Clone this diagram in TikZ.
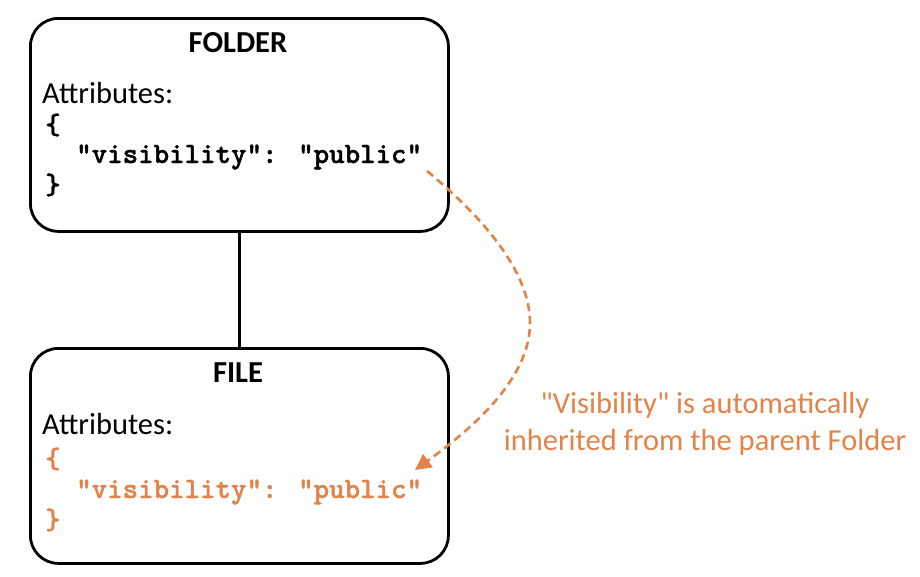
\documentclass[tikz,border=0pt]{standalone}
\usepackage{fontspec}
\setmainfont{Carlito}[Ligatures=TeXOff]
\newfontfamily\codefont{lmmonolt10-bold.otf}[FakeBold=1.2]
\usetikzlibrary{arrows.meta}
\definecolor{accent}{HTML}{E2834A}
\newcommand{\dq}{\symbol{34}}
\tikzset{
  entity/.style={draw=black, line width=2.8pt, rounded corners=28pt, anchor=north west, inner sep=0pt},
  title/.style={anchor=base, inner sep=0pt, font=\fontsize{30.5}{36}\selectfont\bfseries},
  label/.style={anchor=base west, inner sep=0pt, font=\fontsize{30.5}{36}\selectfont},
  code/.style={anchor=base west, inner sep=0pt, font=\fontsize{29.5}{34}\selectfont\codefont},
  note/.style={anchor=base, inner sep=0pt, text=accent, font=\fontsize{30.5}{36}\selectfont},
  link/.style={line width=2.5pt},
  inherit/.style={draw=accent, line width=2.6pt, dash pattern=on 8pt off 5pt, -{Triangle[length=16pt,width=16pt]}}
}
\begin{document}
\begin{tikzpicture}[x=1pt,y=-1pt]
\useasboundingbox (0,0) rectangle (920,576);
\fill[white] (0,0) rectangle (920,576);
% boxes
\node[entity, minimum width=418pt, minimum height=213pt] (folder) at (29,17) {};
\node[entity, minimum width=418pt, minimum height=215pt] (file) at (29,347) {};
\draw[link] (folder.south) -- (file.north);
% folder content
\node[title] (ftitle) at (238,52) {FOLDER};
\node[label] (fattr) at (42,103) {Attributes:};
\node[code] (fopen) at (45,134) {\{};
\node[code] (fvis) at (76,163) {\dq visibility\dq: \dq public\dq};
\node[code] (fclose) at (45,194) {\}};
% file content
\node[title] (etitle) at (238,382) {FILE};
\node[label] (eattr) at (42,434) {Attributes:};
\node[code, text=accent] (eopen) at (45,468) {\{};
\node[code, text=accent] (evis) at (76,498) {\dq visibility\dq: \dq public\dq};
\node[code, text=accent] (eclose) at (45,529) {\}};
% annotation
\node[note] (note1) at (705,413) {"Visibility" is automatically};
\node[note] (note2) at (705,450) {inherited from the parent Folder};
% arrow
\coordinate (from) at (427,171);
\coordinate (mid) at (530,323);
\coordinate (to) at (415,470);
\draw[inherit] (from) .. controls (480,215) and (530,270) .. (mid) .. controls (530,380) and (470,430) .. (to);
\end{tikzpicture}
\end{document}
